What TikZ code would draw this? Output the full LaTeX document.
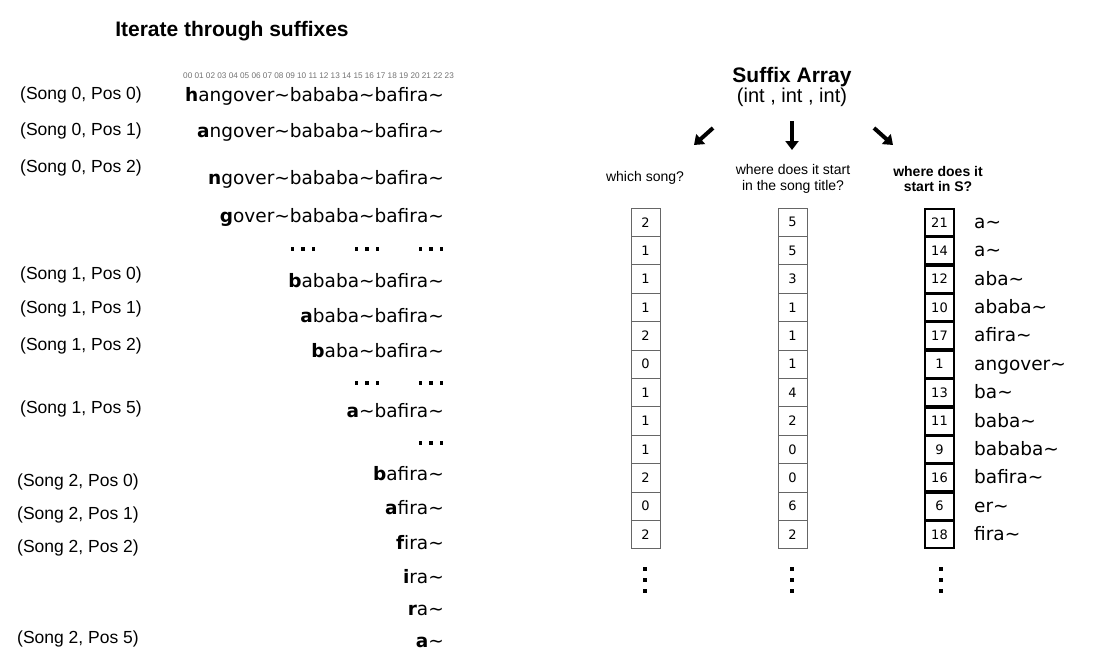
\documentclass[tikz,border=0pt]{standalone}
\usepackage{fontspec}
\setmainfont{Liberation Sans}
\newfontfamily\lucida{DejaVu Sans}
\usetikzlibrary{arrows.meta}
\newcommand{\tld}{\textasciitilde}

\tikzset{
  heading/.style={inner sep=0pt, font=\bfseries\fontsize{21}{24}\selectfont},
  songpos/.style={anchor=west, inner sep=0pt, font=\fontsize{17.5}{20}\selectfont},
  suffix/.style={anchor=base east, inner sep=0pt, font=\lucida\fontsize{18.5}{20}\selectfont},
  question/.style={align=center, inner sep=0pt, font=\fontsize{14}{15.5}\selectfont},
  cell/.style={draw=black!60, line width=0.7pt, minimum width=29pt, minimum height=28.4pt,
    inner sep=0pt, font=\lucida\fontsize{13}{15}\selectfont},
  startcell/.style={cell, draw=black, line width=1.8pt, minimum height=26.8pt},
  word/.style={anchor=base west, inner sep=0pt, font=\lucida\fontsize{18.5}{20}\selectfont},
  fat/.style={line width=4pt, -{Triangle[length=9pt,width=13pt]}}
}

\begin{document}
\begin{tikzpicture}[x=1pt, y=-1pt]
  \useasboundingbox (0,0) rectangle (1100,662);

  % left half: the suffixes of S
  \node[heading] (iterate) at (232,31) {Iterate through suffixes};
  \node[anchor=west, inner sep=0pt, text=black!55, font=\fontsize{8.2}{9}\selectfont] (index) at (183,76)
    {00 01 02 03 04 05 06 07 08 09 10 11 12 13 14 15 16 17 18 19 20 21 22 23};

  \foreach \x/\y/\s/\p in {20/95/0/0, 20/131/0/1, 20/168/0/2, 20/275/1/0, 20/309/1/1, 20/346/1/2,
      20/409/1/5, 17/482/2/0, 17/515/2/1, 17/548/2/2, 17/639/2/5}
    \node[songpos] (s\s p\p) at (\x,\y) {(Song \s, Pos \p)};

  \foreach \y/\h/\t in {101/h/angover\tld bababa\tld bafira\tld, 137/a/ngover\tld bababa\tld bafira\tld,
      184/n/gover\tld bababa\tld bafira\tld, 222/g/over\tld bababa\tld bafira\tld,
      287/b/ababa\tld bafira\tld, 322/a/baba\tld bafira\tld, 357/b/aba\tld bafira\tld,
      417/a/\tld bafira\tld, 480/b/afira\tld, 514/a/fira\tld, 549/f/ira\tld,
      583/i/ra\tld, 615/r/a\tld, 647/a/\tld}
    \node[suffix] (suf\y) at (444,\y) {\textbf{\h}\t};

  % skipped suffixes
  \foreach \x/\y in {303/249, 367/249, 431/249, 367/383, 431/383, 431/443}
    \foreach \d in {-10.5,0,10.5}
      \fill (\x+\d-1.8,\y-1.8) rectangle (\x+\d+1.8,\y+1.8);

  % right half: the suffix array
  \node[heading] (sa) at (792,77) {Suffix Array};
  \node[inner sep=0pt, font=\fontsize{20}{22}\selectfont] (satype) at (792,97) {(int , int , int)};

  \coordinate (songtail) at (713,128);
  \coordinate (songtip) at (694,145);
  \coordinate (postail) at (792,121);
  \coordinate (postip) at (792,150);
  \coordinate (starttail) at (874,128);
  \coordinate (starttip) at (893,145);
  \draw[fat] (songtail) -- (songtip);
  \draw[fat] (postail) -- (postip);
  \draw[fat] (starttail) -- (starttip);

  \node[question] (qsong) at (645,178) {which song?};
  \node[question] (qpos) at (793,179) {where does it start\\in the song title?};
  \node[question, font=\bfseries\fontsize{14}{15.5}\selectfont] (qstart) at (938,179) {where does it\\start in S?};

  \foreach \a/\b/\c/\w [count=\i] in {2/5/21/a\tld, 1/5/14/a\tld, 1/3/12/aba\tld, 1/1/10/ababa\tld,
      2/1/17/afira\tld, 0/1/1/angover\tld, 1/4/13/ba\tld, 1/2/11/baba\tld, 1/0/9/bababa\tld,
      2/0/16/bafira\tld, 0/6/6/er\tld, 2/2/18/fira\tld}{
    \node[cell] (song\i) at (645.5,193.8+28.4*\i) {\a};
    \node[cell] (pos\i) at (792.5,193.8+28.4*\i) {\b};
    \node[startcell] (start\i) at (939.5,193.8+28.4*\i) {\c};
    \node[word] (word\i) at (974,199.8+28.4*\i) {\w};
  }

  \foreach \x in {645,792,941}
    \foreach \y in {569,580,591}
      \fill (\x-2,\y-2) rectangle (\x+2,\y+2);
\end{tikzpicture}
\end{document}
